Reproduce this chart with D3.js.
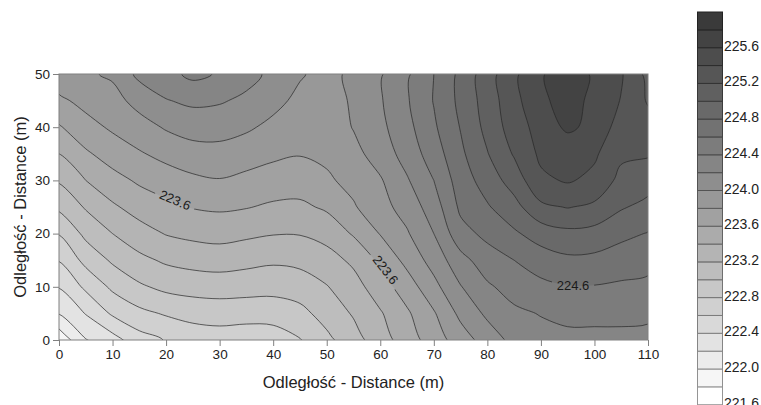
<!DOCTYPE html>
<html>
<head>
<meta charset="utf-8">
<script src="https://cdn.jsdelivr.net/npm/d3@7"></script>
<style>
  body { margin: 0; background: #fff; }
  text { font-family: "Liberation Sans", Arial, sans-serif; }
</style>
</head>
<body>
<div id="chart"></div>
<script>
const WIDTH = 761;
const HEIGHT = 405;

// grid nodes (m)
const xs = d3.range(0, 111, 5);
const ys = d3.range(0, 51, 5);

// elevation, one row per distance y (m), west -> east
const z0  = [221.85, 222.19, 222.32, 222.52, 222.61, 222.68, 222.70, 222.68, 222.70, 222.79, 222.95, 223.12, 223.31, 223.50, 223.70, 223.90, 224.09, 224.26, 224.33, 224.35, 224.34, 224.35, 224.34];
const z5  = [222.21, 222.41, 222.63, 222.75, 222.82, 222.87, 222.89, 222.88, 222.88, 222.94, 223.08, 223.22, 223.38, 223.57, 223.78, 224.05, 224.24, 224.36, 224.41, 224.45, 224.46, 224.45, 224.44];
const z10 = [222.41, 222.64, 222.84, 222.97, 223.05, 223.08, 223.09, 223.08, 223.07, 223.10, 223.19, 223.32, 223.51, 223.70, 223.94, 224.19, 224.37, 224.48, 224.55, 224.59, 224.59, 224.57, 224.55];
const z15 = [222.61, 222.86, 223.03, 223.15, 223.23, 223.27, 223.29, 223.26, 223.23, 223.25, 223.32, 223.44, 223.64, 223.86, 224.08, 224.33, 224.51, 224.60, 224.70, 224.76, 224.75, 224.70, 224.67];
const z20 = [222.81, 223.05, 223.20, 223.32, 223.41, 223.45, 223.47, 223.44, 223.41, 223.41, 223.47, 223.62, 223.81, 223.98, 224.20, 224.53, 224.65, 224.77, 224.89, 224.95, 224.93, 224.85, 224.79];
const z25 = [223.04, 223.22, 223.37, 223.48, 223.55, 223.61, 223.63, 223.61, 223.57, 223.56, 223.63, 223.78, 223.93, 224.08, 224.30, 224.64, 224.78, 224.93, 225.16, 225.21, 225.16, 225.02, 224.94];
const z30 = [223.22, 223.40, 223.53, 223.63, 223.70, 223.76, 223.79, 223.75, 223.71, 223.70, 223.77, 223.86, 223.98, 224.18, 224.40, 224.70, 224.89, 225.09, 225.36, 225.42, 225.35, 225.14, 225.09];
const z35 = [223.40, 223.57, 223.69, 223.78, 223.86, 223.92, 223.93, 223.89, 223.84, 223.81, 223.84, 223.94, 224.09, 224.28, 224.50, 224.76, 224.99, 225.22, 225.44, 225.45, 225.43, 225.24, 225.22];
const z40 = [223.58, 223.73, 223.83, 223.92, 224.02, 224.08, 224.08, 224.03, 223.95, 223.88, 223.88, 224.01, 224.15, 224.34, 224.57, 224.81, 225.06, 225.30, 225.48, 225.64, 225.54, 225.31, 225.28];
const z45 = [223.76, 223.86, 223.93, 224.07, 224.19, 224.24, 224.22, 224.16, 224.06, 223.95, 223.90, 224.03, 224.18, 224.38, 224.61, 224.85, 225.09, 225.34, 225.56, 225.68, 225.55, 225.39, 225.18];
const z50 = [223.93, 223.97, 224.03, 224.25, 224.33, 224.45, 224.38, 224.27, 224.15, 224.02, 223.93, 224.05, 224.18, 224.37, 224.60, 224.85, 225.11, 225.36, 225.58, 225.72, 225.57, 225.42, 225.14];
const rows = [z0, z5, z10, z15, z20, z25, z30, z35, z40, z45, z50];

// contour levels 221.6 .. 226.0 every 0.2
const levels = d3.range(0, 23).map(i => +(221.6 + i * 0.2).toFixed(1));
const legendTicks = [221.6, 222.0, 222.4, 222.8, 223.2, 223.6, 224.0, 224.4, 224.8, 225.2, 225.6];
const xTicks = [0, 10, 20, 30, 40, 50, 60, 70, 80, 90, 100, 110];
const yTicks = [0, 10, 20, 30, 40, 50];

// labelled contours: value and where the label sits (m)
const contourLabels = [
  { value: 223.6, x: 21.7, y: 26.3, angle: 23 },
  { value: 223.6, x: 61.0, y: 13.2, angle: 52 },
  { value: 224.6, x: 96.0, y: 10.3, angle: 0 },
];

const svg = d3.select('#chart')
  .append('svg')
  .attr('width', WIDTH)
  .attr('height', HEIGHT);

const x = d3.scaleLinear().domain([0, 110]).range([59, 648]);
const y = d3.scaleLinear().domain([0, 50]).range([340, 74]);

const shade = d3.scaleLinear().domain([221.6, 225.8]).range(['#ffffff', '#3a3a3a']);

// d3.contours wants the grid row-major from the top
const nx = xs.length, ny = ys.length;
const grid = [];
for (let j = ny - 1; j >= 0; j--) grid.push(...rows[j]);

// grid node i sits at contour coordinate i + 0.5
const gx = d3.scaleLinear().domain([0.5, nx - 0.5]).range([x(xs[0]), x(xs[nx - 1])]);
const gy = d3.scaleLinear().domain([0.5, ny - 0.5]).range([y(ys[ny - 1]), y(ys[0])]);

const bands = d3.contours()
  .size([nx, ny])
  .thresholds(levels.slice(0, -1))(grid);

const ringLine = d3.line()
  .x(p => gx(p[0]))
  .y(p => gy(p[1]))
  .curve(d3.curveCatmullRomClosed.alpha(0.5));

const pathOf = c => c.coordinates
  .map(poly => poly.map(ring => ringLine(ring.slice(0, -1))).join(''))
  .join('');

const defs = svg.append('defs');
defs.append('clipPath').attr('id', 'plot-clip')
  .append('rect')
  .attr('x', x(0)).attr('y', y(50))
  .attr('width', x(110) - x(0)).attr('height', y(0) - y(50));

const labelMask = defs.append('mask')
  .attr('id', 'label-mask')
  .attr('maskUnits', 'userSpaceOnUse')
  .attr('x', 0).attr('y', 0).attr('width', WIDTH).attr('height', HEIGHT);
labelMask.append('rect')
  .attr('width', WIDTH).attr('height', HEIGHT).attr('fill', 'white');
labelMask.selectAll('rect.hole')
  .data(contourLabels)
  .join('rect')
  .attr('class', 'hole')
  .attr('x', -21).attr('y', -7).attr('width', 42).attr('height', 14)
  .attr('fill', 'black')
  .attr('transform', d => `translate(${x(d.x)},${y(d.y)}) rotate(${d.angle})`);

const plot = svg.append('g').attr('clip-path', 'url(#plot-clip)');

plot.append('g')
  .selectAll('path')
  .data(bands)
  .join('path')
  .attr('d', pathOf)
  .attr('fill', d => shade(d.value))
  .attr('fill-rule', 'evenodd')
  .attr('stroke', 'none');

plot.append('g')
  .attr('mask', 'url(#label-mask)')
  .selectAll('path')
  .data(bands.filter(c => c.value > levels[0]))
  .join('path')
  .attr('d', pathOf)
  .attr('fill', 'none')
  .attr('stroke', '#262626')
  .attr('stroke-width', 0.7);

plot.append('g')
  .selectAll('text')
  .data(contourLabels)
  .join('text')
  .attr('transform', d => `translate(${x(d.x)},${y(d.y)}) rotate(${d.angle})`)
  .attr('text-anchor', 'middle')
  .attr('dy', '0.35em')
  .attr('font-size', 13)
  .attr('fill', '#1a1a1a')
  .text(d => d.value.toFixed(1));

// frame
svg.append('rect')
  .attr('x', x(0)).attr('y', y(50))
  .attr('width', x(110) - x(0)).attr('height', y(0) - y(50))
  .attr('fill', 'none')
  .attr('stroke', '#808080')
  .attr('stroke-width', 1);

const styleAxis = g => {
  g.select('.domain').remove();
  g.attr('font-family', '"Liberation Sans", Arial, sans-serif');
  g.selectAll('line').attr('stroke', '#808080');
  g.selectAll('text').attr('font-size', 13.5).attr('fill', '#222');
};

svg.append('g')
  .attr('transform', `translate(0,${y(0)})`)
  .call(d3.axisBottom(x).tickValues(xTicks).tickSize(6).tickPadding(3).tickFormat(d3.format('d')))
  .call(styleAxis);

svg.append('g')
  .attr('transform', `translate(${x(0)},0)`)
  .call(d3.axisLeft(y).tickValues(yTicks).tickSize(6).tickPadding(3).tickFormat(d3.format('d')))
  .call(styleAxis);

svg.append('text')
  .attr('x', (x(0) + x(110)) / 2)
  .attr('y', 388)
  .attr('text-anchor', 'middle')
  .attr('font-size', 16.5)
  .attr('fill', '#222')
  .text('Odległość - Distance (m)');

svg.append('text')
  .attr('transform', `translate(26,${(y(0) + y(50)) / 2}) rotate(-90)`)
  .attr('text-anchor', 'middle')
  .attr('font-size', 16.5)
  .attr('fill', '#222')
  .text('Odległość - Distance (m)');

// legend
const ly = d3.scaleLinear().domain([226.0, 221.6]).range([12, 12 + 22 * 17.85]);
const legend = svg.append('g');
legend.selectAll('rect')
  .data(levels.slice(0, -1))
  .join('rect')
  .attr('x', 697.5)
  .attr('y', d => ly(d + 0.2))
  .attr('width', 25)
  .attr('height', d => ly(d) - ly(d + 0.2))
  .attr('fill', d => shade(d))
  .attr('stroke', d => d3.color(shade(d)).darker(1.5))
  .attr('stroke-width', 1);

legend.selectAll('text')
  .data(legendTicks)
  .join('text')
  .attr('x', 724)
  .attr('y', d => ly(d) + 3)
  .attr('font-size', 14)
  .attr('fill', '#222')
  .text(d => d.toFixed(1));
</script>
</body>
</html>
